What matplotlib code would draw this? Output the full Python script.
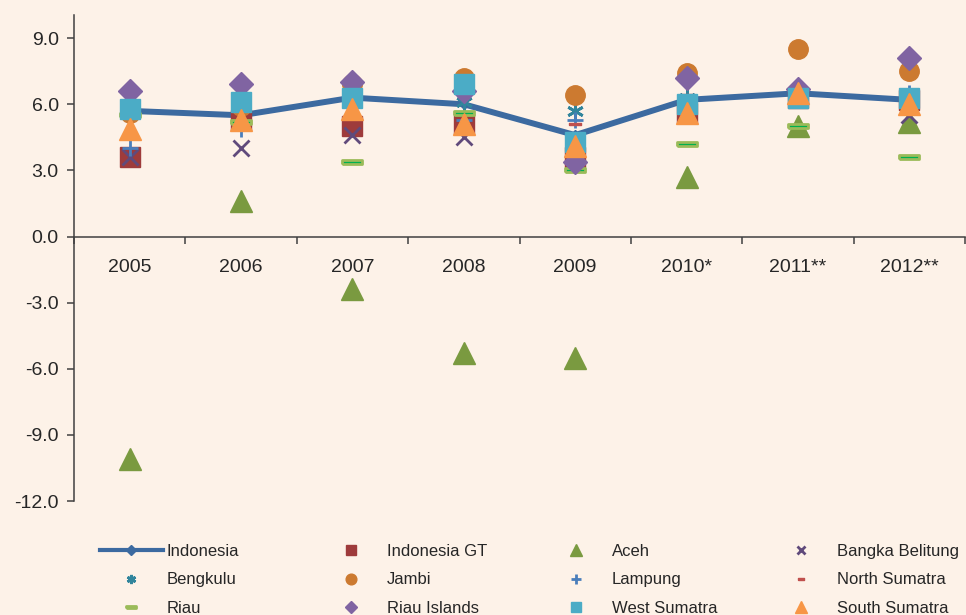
import numpy as np
import matplotlib
matplotlib.use('Agg')
import matplotlib.pyplot as plt
from matplotlib.lines import Line2D

plt.rcParams['font.family'] = ['Liberation Sans', 'DejaVu Sans']
plt.rcParams['axes.unicode_minus'] = False

# data (growth, %)
years = ['2005', '2006', '2007', '2008', '2009', '2010*', '2011**', '2012**']
indonesia = [5.7, 5.5, 6.3, 6.0, 4.6, 6.2, 6.5, 6.2]
indonesia_gt = [3.6, 5.3, 5.0, 5.1, 3.6, 5.6, 6.3, 6.2]
aceh = [-10.1, 1.6, -2.4, -5.3, -5.5, 2.7, 5.0, 5.2]
bangka_belitung = [3.6, 4.0, 4.6, 4.5, 3.7, 5.9, 6.5, 5.5]
bengkulu = [5.8, 6.0, 6.5, 6.1, 5.7, 6.3, 6.4, 6.2]
jambi = [5.6, 5.9, 6.9, 7.2, 6.4, 7.4, 8.5, 7.5]
lampung = [4.0, 4.9, 5.9, 5.3, 5.3, 5.9, 6.4, 6.5]
north_sumatra = [5.5, 6.2, 6.9, 6.4, 5.1, 6.4, 6.6, 6.2]
riau = [5.5, 5.2, 3.4, 5.6, 3.0, 4.2, 5.0, 3.6]
riau_islands = [6.6, 6.9, 7.0, 6.6, 3.4, 7.2, 6.7, 8.1]
west_sumatra = [5.8, 6.1, 6.3, 6.9, 4.3, 6.0, 6.3, 6.3]
south_sumatra = [4.9, 5.3, 5.8, 5.1, 4.1, 5.6, 6.5, 6.0]

x = np.arange(len(years))

fig = plt.figure(figsize=(9.66, 6.15), dpi=100, facecolor='#FDF2E8')
ax = fig.add_axes([74 / 966, 1 - 501 / 615, (965 - 74) / 966, (501 - 15) / 615])
ax.set_facecolor('#FDF2E8')

dash = [(-1, -0.25), (1, -0.25), (1, 0.25), (-1, 0.25), (-1, -0.25)]

h = {}
h['Indonesia'], = ax.plot(x, indonesia, color='#3C6AA0', lw=4.3, marker='D', ms=5, zorder=2)
h['Indonesia GT'], = ax.plot(x, indonesia_gt, ls='none', marker='s', ms=14, color='#9E3B3B', zorder=3)
h['Aceh'], = ax.plot(x, aceh, ls='none', marker='^', ms=16, color='#7A9A40', zorder=3)
h['Bangka Belitung'], = ax.plot(x, bangka_belitung, ls='none', marker='x', ms=11, mew=2, color='#604A7B', zorder=3)
h['Bengkulu'], = ax.plot(x, bengkulu, ls='none', marker=(6, 2, 0), ms=12, mew=2, color='#31859C', zorder=3)
h['Jambi'], = ax.plot(x, jambi, ls='none', marker='o', ms=14, color='#CC7A30', zorder=3)
h['Lampung'], = ax.plot(x, lampung, ls='none', marker='+', ms=12, mew=2, color='#4A7EBB', zorder=3)
h['North Sumatra'], = ax.plot(x, north_sumatra, ls='none', marker=dash, ms=8, color='#C0504D', zorder=3)
h['Riau'], = ax.plot(x, riau, ls='none', marker=dash, ms=14, mfc='#00B050', mec='#9BBB59', mew=2, zorder=3)
h['Riau Islands'], = ax.plot(x, riau_islands, ls='none', marker='D', ms=12, color='#8064A2', zorder=3)
h['West Sumatra'], = ax.plot(x, west_sumatra, ls='none', marker='s', ms=14, color='#4BACC6', zorder=3)
h['South Sumatra'], = ax.plot(x, south_sumatra, ls='none', marker='^', ms=16, color='#F79646', zorder=3)

ax.set_xlim(-0.5, len(years) - 0.5)
ax.set_ylim(-12, 10.05)
ax.set_yticks(np.arange(-12, 10, 3))
ax.set_yticklabels(['%.1f' % v for v in np.arange(-12, 10, 3)])

ax.set_xticks(x)
ax.set_xticklabels(years)
ax.set_xticks(np.arange(-0.5, len(years)), minor=True)
ax.tick_params(axis='x', which='major', length=0, pad=16, labelsize=14, colors='#262626')
ax.tick_params(axis='x', which='minor', length=5, width=1.1, color='#404040')
ax.tick_params(axis='y', length=5, width=1.1, color='#404040', labelsize=14, labelcolor='#262626', pad=6)

for s in ['top', 'right']:
    ax.spines[s].set_visible(False)
ax.spines['bottom'].set_position(('data', 0))
for s in ['left', 'bottom']:
    ax.spines[s].set_color('#404040')
    ax.spines[s].set_linewidth(1.1)

# legend, 4 columns placed by hand
cols = [['Indonesia', 'Bengkulu', 'Riau'],
        ['Indonesia GT', 'Jambi', 'Riau Islands'],
        ['Aceh', 'Lampung', 'West Sumatra'],
        ['Bangka Belitung', 'North Sumatra', 'South Sumatra']]
col_x = [100, 320, 545, 770]
for cx, names in zip(col_x, cols):
    handles = []
    for n in names:
        src = h[n]
        if n == 'Indonesia':
            handles.append(Line2D([], [], color='#3C6AA0', lw=3, marker='D', ms=5))
        else:
            handles.append(Line2D([], [], ls='none', marker=src.get_marker(),
                                  ms=src.get_markersize() * 0.55, mew=src.get_markeredgewidth(),
                                  mfc=src.get_markerfacecolor(), mec=src.get_markeredgecolor()))
    leg = fig.legend(handles, names, loc='upper left', bbox_to_anchor=(cx / 966, 1 - 544 / 615),
                     frameon=False, fontsize=12, handlelength=3.75, handletextpad=0.25,
                     labelspacing=0.8, borderpad=0, borderaxespad=0)
    for t in leg.get_texts():
        t.set_color('#262626')

fig.savefig('out.png', dpi=100, facecolor=fig.get_facecolor())
